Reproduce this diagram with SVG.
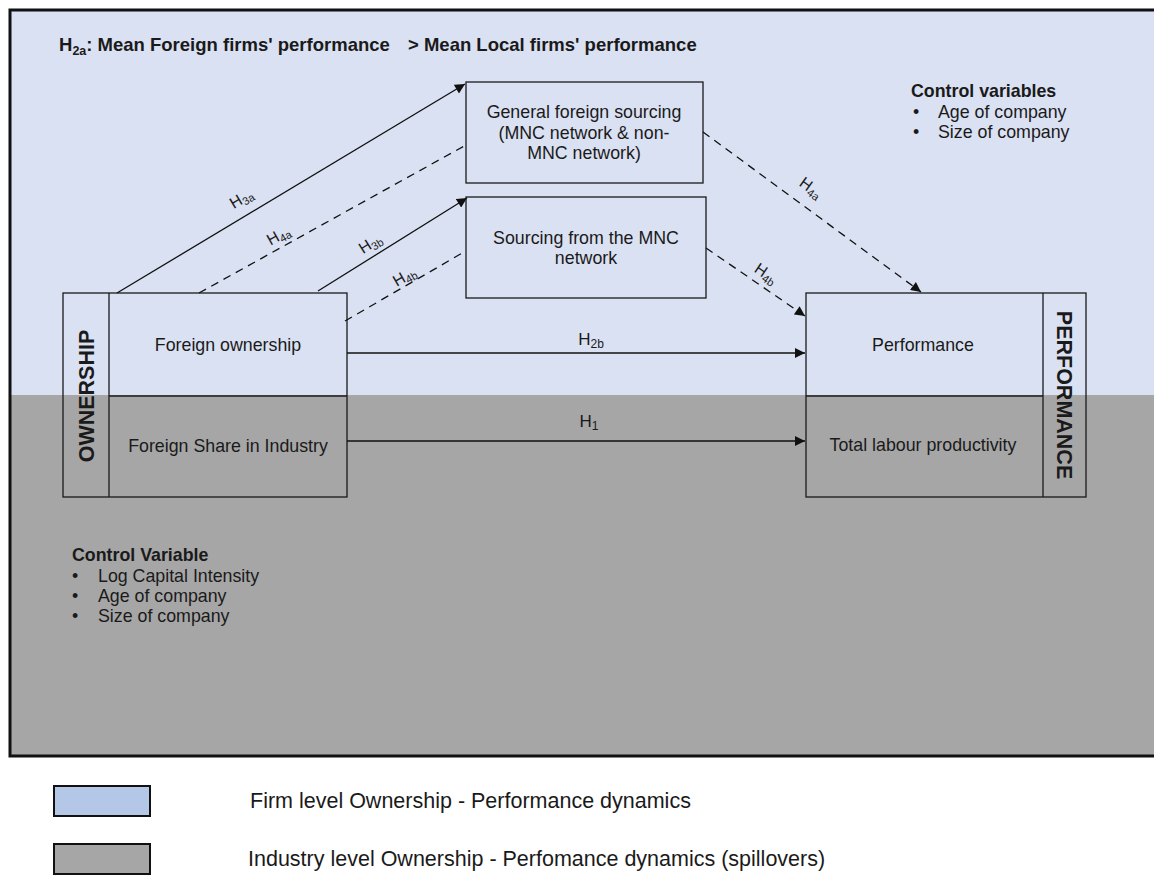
<svg xmlns="http://www.w3.org/2000/svg" width="1154" height="891" viewBox="0 0 1154 891">
  <defs>
    <marker id="arrow" viewBox="0 0 10 10" refX="10" refY="5" markerWidth="11" markerHeight="10" markerUnits="userSpaceOnUse" orient="auto">
      <path d="M0,0 L10,5 L0,10 z" fill="#111"/>
    </marker>
    <style>
      text { font-family: "Liberation Sans", Arial, sans-serif; fill: #1a1a1a; }
      .box { fill: none; stroke: #1a1a1a; stroke-width: 1.3; }
      .lbl { font-size: 17.8px; text-anchor: middle; }
      .side { font-size: 21.5px; font-weight: bold; text-anchor: middle; }
      .hyp { font-size: 16px; text-anchor: middle; }
      .sub { font-size: 11px; }
      .hyp2 { font-size: 17px; text-anchor: middle; }
      .sub2 { font-size: 12px; }
      .solid { stroke: #111; stroke-width: 1.3; fill: none; }
      .dash { stroke: #111; stroke-width: 1.3; fill: none; stroke-dasharray: 8 6; }
      .note { font-size: 17.8px; }
      .noteb { font-size: 17.8px; font-weight: bold; }
      .head { font-size: 18.5px; font-weight: bold; }
      .legend { font-size: 21.5px; }
    </style>
  </defs>

  <!-- page background -->
  <rect x="0" y="0" width="1154" height="891" fill="#ffffff"/>

  <!-- firm level band and industry level band -->
  <rect x="10" y="10" width="1150" height="385" fill="#DAE1F2"/>
  <rect x="10" y="395" width="1150" height="361" fill="#A6A6A6"/>
  <rect x="10" y="10" width="1150" height="746" fill="none" stroke="#111" stroke-width="3"/>

  <!-- headline hypothesis -->
  <text x="59" y="51" class="head">H<tspan style="font-size:12.5px" dy="4">2a</tspan><tspan dy="-4">: Mean Foreign firms' performance</tspan></text>
  <text x="408" y="51" class="head">&gt; Mean Local firms' performance</text>

  <!-- control variables (firm level) -->
  <g id="controls-firm">
    <text x="911" y="97" class="noteb">Control variables</text>
    <text x="913" y="118" class="note">•</text>
    <text x="938" y="118" class="note">Age of company</text>
    <text x="913" y="138" class="note">•</text>
    <text x="938" y="138" class="note">Size of company</text>
  </g>

  <!-- control variables (industry level) -->
  <g id="controls-industry">
    <text x="72" y="561" class="noteb">Control Variable</text>
    <text x="72" y="582" class="note">•</text>
    <text x="98" y="582" class="note">Log Capital Intensity</text>
    <text x="72" y="602" class="note">•</text>
    <text x="98" y="602" class="note">Age of company</text>
    <text x="72" y="622" class="note">•</text>
    <text x="98" y="622" class="note">Size of company</text>
  </g>

  <!-- ownership block -->
  <g id="ownership">
    <rect x="63" y="293" width="284" height="204" class="box"/>
    <line x1="109" y1="293" x2="109" y2="497" class="box"/>
    <line x1="109" y1="396" x2="347" y2="396" class="box"/>
    <text class="side" transform="translate(94,396) rotate(-90)">OWNERSHIP</text>
    <text x="228" y="351" class="lbl">Foreign ownership</text>
    <text x="228" y="452" class="lbl">Foreign Share in Industry</text>
  </g>

  <!-- performance block -->
  <g id="performance">
    <rect x="806" y="293" width="280" height="204" class="box"/>
    <line x1="1043" y1="293" x2="1043" y2="497" class="box"/>
    <line x1="806" y1="396" x2="1043" y2="396" class="box"/>
    <text class="side" transform="translate(1057,395) rotate(90)">PERFORMANCE</text>
    <text x="923" y="351" class="lbl">Performance</text>
    <text x="923" y="451" class="lbl">Total labour productivity</text>
  </g>

  <!-- mediators -->
  <g id="general-sourcing">
    <rect x="466" y="82" width="237" height="101" class="box"/>
    <text x="584" y="118" class="lbl">General foreign sourcing</text>
    <text x="584" y="139" class="lbl">(MNC network &amp; non-</text>
    <text x="584" y="159" class="lbl">MNC network)</text>
  </g>
  <g id="mnc-sourcing">
    <rect x="466" y="197" width="240" height="101" class="box"/>
    <text x="586" y="244" class="lbl">Sourcing from the MNC</text>
    <text x="586" y="264" class="lbl">network</text>
  </g>

  <!-- connectors -->
  <g id="connectors">
    <line x1="117" y1="293" x2="465" y2="84" class="solid" marker-end="url(#arrow)"/>
    <line x1="199" y1="293" x2="466" y2="145" class="dash"/>
    <line x1="318" y1="291" x2="467" y2="198" class="solid" marker-end="url(#arrow)"/>
    <line x1="345" y1="321" x2="464" y2="252" class="dash"/>
    <line x1="347" y1="353" x2="805" y2="353" class="solid" marker-end="url(#arrow)"/>
    <line x1="347" y1="441" x2="805" y2="441" class="solid" marker-end="url(#arrow)"/>
    <line x1="703" y1="132" x2="921" y2="292" class="dash" marker-end="url(#arrow)"/>
    <line x1="706" y1="248" x2="805" y2="316" class="dash" marker-end="url(#arrow)"/>

    <text class="hyp" transform="translate(244,203) rotate(-31)">H<tspan class="sub" dy="3">3a</tspan></text>
    <text class="hyp" transform="translate(281,240) rotate(-29)">H<tspan class="sub" dy="3">4a</tspan></text>
    <text class="hyp" transform="translate(373,248) rotate(-32)">H<tspan class="sub" dy="3">3b</tspan></text>
    <text class="hyp" transform="translate(407,281) rotate(-30)">H<tspan class="sub" dy="3">4b</tspan></text>
    <text class="hyp" transform="translate(808,192) rotate(36)">H<tspan class="sub" dy="3">4a</tspan></text>
    <text class="hyp" transform="translate(763,278) rotate(34)">H<tspan class="sub" dy="3">4b</tspan></text>
    <text x="591" y="345" class="hyp2">H<tspan class="sub2" dy="3">2b</tspan></text>
    <text x="589" y="427" class="hyp2">H<tspan class="sub2" dy="3">1</tspan></text>
  </g>

  <!-- legend -->
  <g id="legend">
    <rect x="54" y="786" width="96" height="30" fill="#B4C7E7" stroke="#111" stroke-width="2"/>
    <text x="250" y="808" class="legend">Firm level Ownership - Performance dynamics</text>
    <rect x="54" y="844" width="96" height="30" fill="#A6A6A6" stroke="#111" stroke-width="2"/>
    <text x="248" y="866" class="legend">Industry level Ownership - Perfomance dynamics (spillovers)</text>
  </g>
</svg>
